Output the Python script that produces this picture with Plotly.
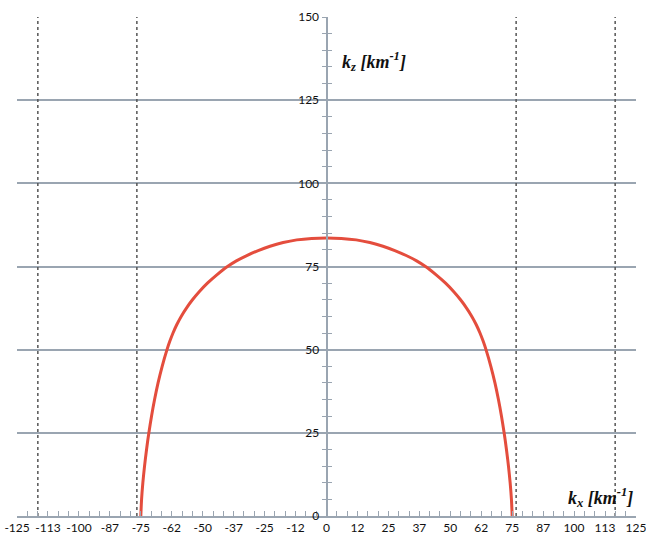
import plotly.graph_objects as go

# Wavenumber curve kz(kx) [km^-1]
kx = [-75, -74.7, -74.18, -73.5, -72.69, -71.75, -70.68, -69.45, -68.04, -66.38,
      -64.43, -63.3, -62.0, -60.5, -58.7, -56.58, -54.14, -51.33, -48.1, -44.3,
      -40.0, -36.4, -32.2, -27.6, -22.8, -17.5, -12, -6, 0,
      6, 12, 17.5, 22.8, 27.6, 32.2, 36.4, 40.0,
      44.3, 48.1, 51.33, 54.14, 56.58, 58.7, 60.5, 62.0, 63.3, 64.43,
      66.38, 68.04, 69.45, 70.68, 71.75, 72.69, 73.5, 74.18, 74.7, 75]
kz = [0, 5, 10, 15, 20, 25, 30, 35, 40, 45,
      50, 52.5, 55, 57.5, 60, 62.5, 65, 67.5, 70, 72.5,
      75, 76.7, 78.3, 79.8, 81.1, 82.2, 83.0, 83.45, 83.6,
      83.45, 83.0, 82.2, 81.1, 79.8, 78.3, 76.7, 75,
      72.5, 70, 67.5, 65, 62.5, 60, 57.5, 55, 52.5, 50,
      45, 40, 35, 30, 25, 20, 15, 10, 5, 0]

# Dotted vertical guide positions
guides_x = [-116.6, -76.6, 76.6, 116.6]

# Axis ticks
x_tickvals = [-125 + 12.5 * i for i in range(21)]
x_ticktext = ["-125", "-113", "-100", "-87", "-75", "-62", "-50", "-37", "-25", "-12", "0",
              "12", "25", "37", "50", "62", "75", "87", "100", "113", "125"]
y_tickvals = [0, 25, 50, 75, 100, 125, 150]

AXIS = "#9aa5b1"
TEXT = "#111111"
TICKFONT = dict(family="Lato, Arial, sans-serif", size=12, color=TEXT)
TITLEFONT = dict(family="Liberation Serif, Times New Roman, Times, serif", size=18, color=TEXT)

fig = go.Figure()

for gx in guides_x:
    fig.add_trace(go.Scatter(
        x=[gx, gx], y=[0, 150], mode="lines", yaxis="y2",
        line=dict(color="#555555", width=1.5, dash="dot"),
        hoverinfo="skip", showlegend=False))

fig.add_trace(go.Scatter(
    x=kx, y=kz, mode="lines",
    line=dict(color="#e44d3d", width=3, shape="spline", smoothing=1.0),
    showlegend=False))

fig.update_layout(
    width=646, height=539,
    margin=dict(l=17, r=10, t=17, b=23, autoexpand=False),
    paper_bgcolor="white", plot_bgcolor="white",
    xaxis=dict(
        range=[-125.02, 125.02], showgrid=False, zeroline=False, automargin=False,
        showline=True, linecolor=AXIS, linewidth=2,
        tickmode="array", tickvals=x_tickvals, ticktext=x_ticktext,
        ticklabeloverflow="allow",
        ticks="inside", ticklen=5, tickcolor=AXIS, tickwidth=1,
        minor=dict(tick0=-125, dtick=12.5 / 3, ticks="inside", ticklen=5,
                   tickcolor=AXIS, showgrid=False),
        tickfont=TICKFONT,
    ),
    yaxis=dict(
        range=[0, 150], anchor="free", position=0.5, side="left", automargin=False,
        showgrid=True, gridcolor=AXIS, gridwidth=2, zeroline=False,
        showline=True, linecolor=AXIS, linewidth=2,
        tickmode="array", tickvals=y_tickvals, ticklabeloverflow="allow",
        ticks="outside", ticklen=4, tickcolor=AXIS, tickwidth=1,
        minor=dict(dtick=5, ticks="outside", ticklen=4, tickcolor=AXIS, showgrid=False),
        tickfont=TICKFONT,
    ),
    yaxis2=dict(
        range=[0, 150], overlaying="y", anchor="free", position=0.5, side="left",
        automargin=False,
        showgrid=False, zeroline=False, showline=False, showticklabels=False,
        tickmode="array", tickvals=y_tickvals,
        ticks="inside", ticklen=4, tickcolor=AXIS, tickwidth=1,
        minor=dict(dtick=5, ticks="inside", ticklen=4, tickcolor=AXIS, showgrid=False),
    ),
    annotations=[
        dict(text="<b><i>k<sub>z</sub> [km<sup>-1</sup>]</i></b>",
             x=5.5, y=136.5, xref="x", yref="y", xanchor="left", yanchor="middle",
             showarrow=False, font=TITLEFONT),
        dict(text="<b><i>k<sub>x</sub> [km<sup>-1</sup>]</i></b>",
             x=124.8, y=5.6, xref="x", yref="y", xanchor="right", yanchor="middle",
             showarrow=False, font=TITLEFONT),
    ],
)

fig.write_html("out.html")
